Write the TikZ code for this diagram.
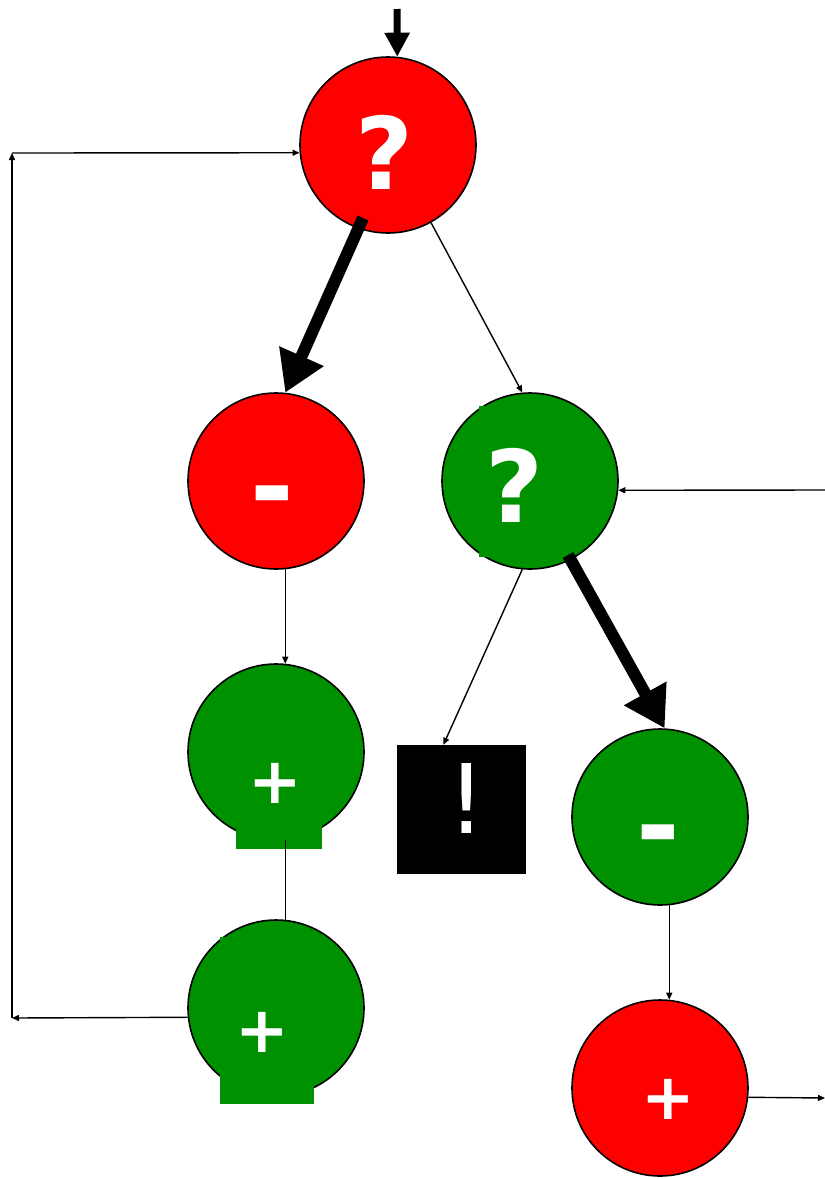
\documentclass[tikz,border=0pt]{standalone}
\usepackage{fontspec}
\newfontfamily\glyphfont{DejaVu Sans Bold}
\newfontfamily\thinglyph{DejaVu Sans}
\usetikzlibrary{arrows.meta,calc}
\definecolor{myred}{RGB}{255,0,0}
\definecolor{mygreen}{RGB}{0,145,0}
\begin{document}
\begin{tikzpicture}[x=1pt,y=-1pt,
  bubble/.style={circle,draw=black,line width=1.6pt,minimum size=176pt,inner sep=0pt},
  redb/.style={bubble,fill=myred},
  greenb/.style={bubble,fill=mygreen},
  patch/.style={fill=mygreen},
  sym/.style={text=white,inner sep=0pt,font=\glyphfont\fontsize{#1}{#1}\selectfont},
  thinsym/.style={text=white,inner sep=0pt,font=\thinglyph\fontsize{#1}{#1}\selectfont},
  conn/.style={line width=1.4pt,-{Triangle[length=7pt,width=6pt]}},
  plainline/.style={line width=1.4pt},
  heavy/.style={line width=12pt,-{Triangle[length=40pt,width=46pt]}},
  entry/.style={line width=7pt,-{Triangle[length=24pt,width=24pt]}},
]
\useasboundingbox (0,0) rectangle (825,1179);

% circles
\node[redb]   (top)    at (388,145)  {};
\node[redb]   (minus1) at (276,481)  {};
\node[greenb] (q2)     at (530,481)  {};
\node[greenb] (plus1)  at (276,752)  {};
\node[greenb] (plus2)  at (276,1008) {};
\node[greenb] (minus2) at (660,817)  {};
\node[redb]   (plus3)  at (660,1088) {};
\node[fill=black,minimum size=129pt,inner sep=0pt] (bang) at (461.5,809.5) {};

% green patches
\fill[patch] (479,406) rectangle (540,557);
\fill[patch] (236,700) rectangle (322,849);
\fill[patch] (220,937) rectangle (314,1104);

% glyphs
\node[sym=100] (t1) at (385,152) {?};
\node[sym=100] (t2) at (514,485) {?};
\node[sym=105] (t3) at (272,505) {-};
\node[sym=64]  (t4) at (275,783) {+};
\node[sym=64]  (t5) at (262,1032) {+};
\node[sym=105] (t6) at (658,844) {-};
\node[sym=64]  (t7) at (668,1099) {+};
\node[thinsym=96] (t8) at (467,798) {!};

% coordinates
\coordinate (tin)  at (397,9);
\coordinate (h1s)  at (363,218);
\coordinate (h2s)  at (568,555);
\coordinate (cl)   at (12,1018);
\coordinate (cu)   at (12,153);
\coordinate (rin)  at (825,490);
\coordinate (rout) at (825,1098);

% connectors
\draw[entry] (tin) -- (top.84);
\draw[heavy] (h1s) -- (minus1.84);
\draw[conn]  (top.-61) -- (q2.95);
\draw[conn]  (minus1.-84) -- (plus1.84);
\draw[plainline] (plus1.-84) -- (plus2.84);
\draw[conn]  (plus2.186.5) -- (cl);
\draw[conn]  (cl) -- (cu);
\draw[conn]  (cu) -- (top.185);
\draw[conn]  (rin) -- (q2.-6);
\draw[conn]  (q2.-95) -- ($(bang.north west)!0.36!(bang.north east)$);
\draw[heavy] (h2s) -- (minus2.87);
\draw[conn]  (minus2.-84) -- (plus3.84);
\draw[conn]  (plus3.-6.5) -- (rout);
\end{tikzpicture}
\end{document}
